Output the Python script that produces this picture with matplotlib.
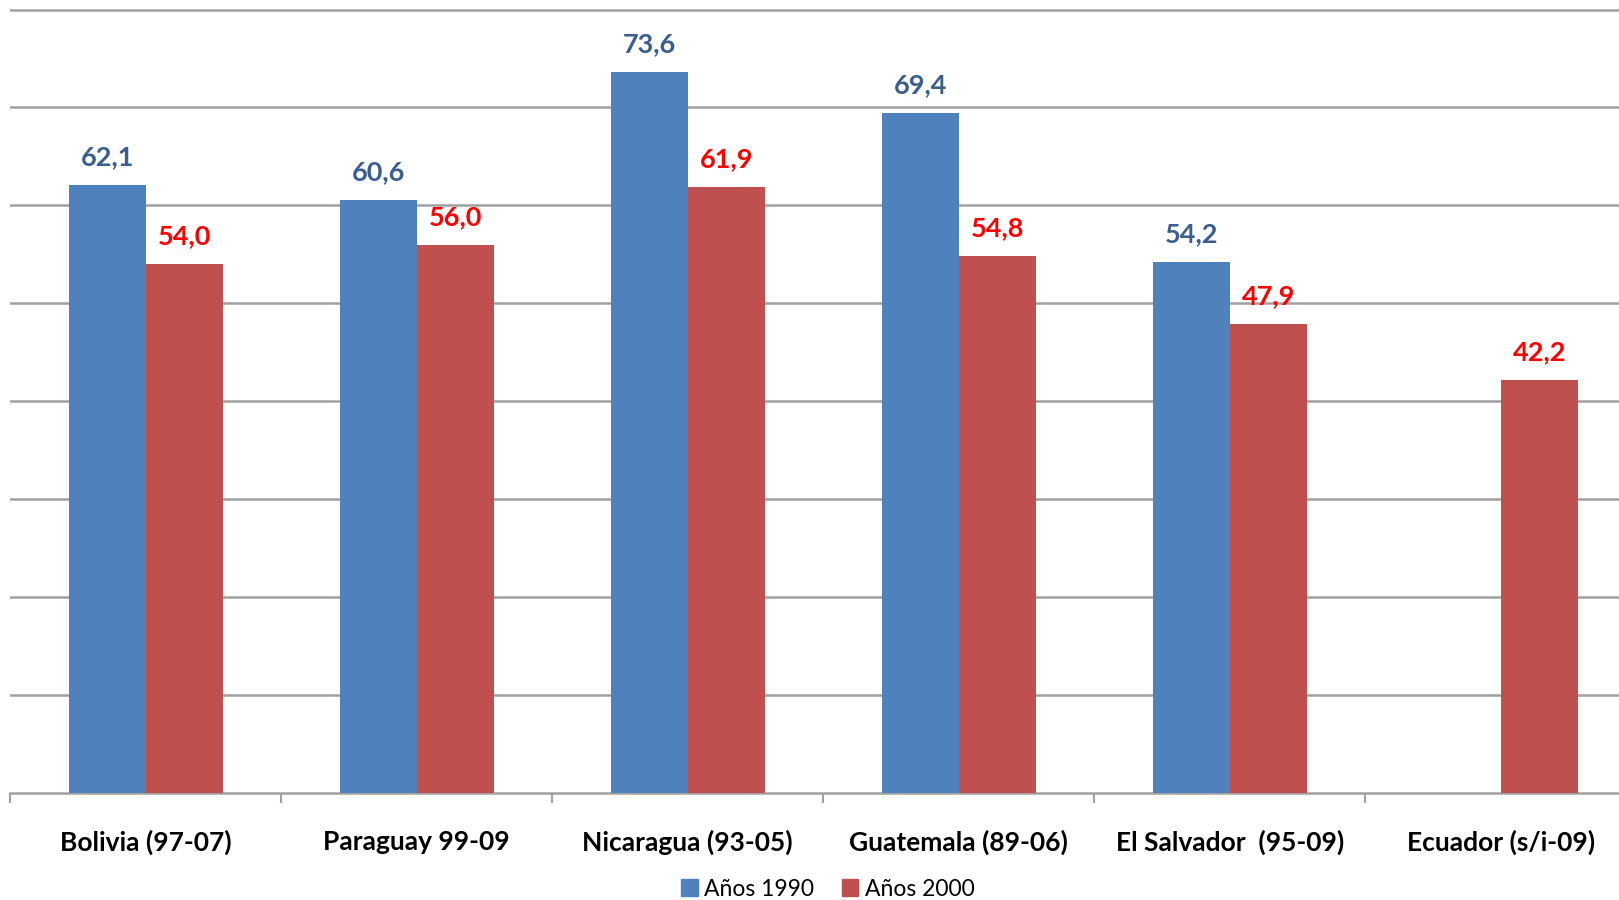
import numpy as np
import matplotlib.pyplot as plt
from matplotlib.patches import Patch

# Datos
paises = ['Bolivia (97-07)', 'Paraguay 99-09', 'Nicaragua (93-05)',
          'Guatemala (89-06)', 'El Salvador  (95-09)', 'Ecuador (s/i-09)']
anos_1990 = [62.1, 60.6, 73.6, 69.4, 54.2, np.nan]
anos_2000 = [54.0, 56.0, 61.9, 54.8, 47.9, 42.2]
series = ['Años 1990', 'Años 2000']

azul = '#4F81BD'
rojo = '#C0504D'

plt.rcParams['font.family'] = ['Lato', 'DejaVu Sans']

fig = plt.figure(figsize=(16.19, 9), dpi=100)
px_unidad = 9.793  # pixeles por unidad del eje y
ax = fig.add_axes([10.3/1619, 107/900, 6*271/1619, 81*px_unidad/900])

x = np.arange(len(paises))
w = 0.284

ax.bar(x - w/2, anos_1990, w, color=azul, zorder=3)
ax.bar(x + w/2, anos_2000, w, color=rojo, zorder=3)

# Etiquetas de valores
for xi, v in zip(x, anos_1990):
    if np.isnan(v): continue
    ax.annotate(('%.1f' % v).replace('.', ','), (xi - w/2, v), xytext=(0, 20),
                textcoords='offset points', ha='center', va='center',
                fontsize=19.5, fontweight='bold', color='#3A5F8F')
for xi, v in zip(x, anos_2000):
    ax.annotate(('%.1f' % v).replace('.', ','), (xi + w/2, v), xytext=(0, 20),
                textcoords='offset points', ha='center', va='center',
                fontsize=19.5, fontweight='bold', color='#FF0000')

# Ejes
ax.set_xlim(-0.5, len(paises) - 0.5)
ax.set_ylim(0, 81)
ax.set_yticks(np.arange(10, 81, 10))
ax.set_yticklabels([])
ax.tick_params(axis='y', length=0)
ax.yaxis.grid(True, color='#A0A0A0', linewidth=1.8, zorder=0)
ax.set_axisbelow(True)

ax.set_xticks(x)
ax.set_xticklabels(paises, fontsize=19, fontweight='bold')
ax.set_xticks(np.arange(-0.5, len(paises), 1), minor=True)
ax.tick_params(axis='x', which='major', length=0, pad=26.5)
ax.tick_params(axis='x', which='minor', length=7, width=1.5, color='#A0A0A0', direction='out')

for s in ['top', 'left', 'right']:
    ax.spines[s].set_visible(False)
ax.spines['bottom'].set_color('#A0A0A0')
ax.spines['bottom'].set_linewidth(1.8)

# Leyenda
handles = [Patch(color=azul), Patch(color=rojo)]
fig.legend(handles, series, loc='center', bbox_to_anchor=(828/1619, 11/900), ncol=2,
           frameon=False, fontsize=16.5, handlelength=0.7, handleheight=0.7,
           handletextpad=0.3, columnspacing=1.2, borderpad=0)

plt.savefig('out.png', dpi=100)
